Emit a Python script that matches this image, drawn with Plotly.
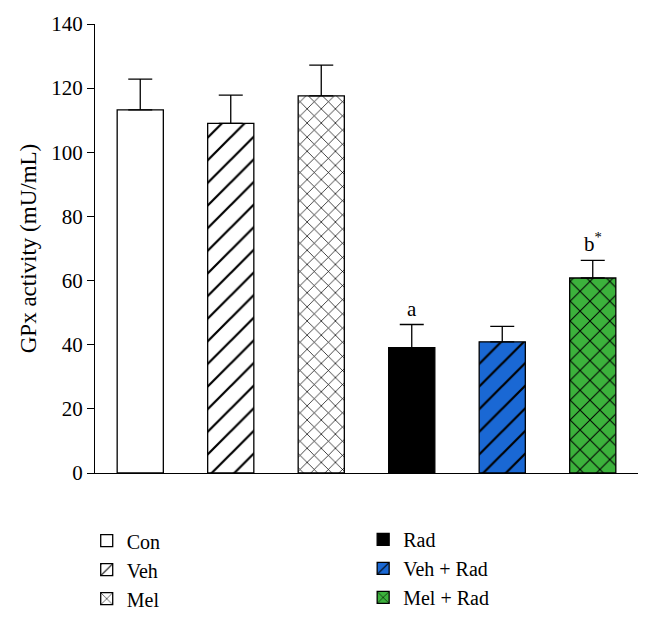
import plotly.graph_objects as go

categories = ["Con", "Veh", "Mel", "Rad", "Veh + Rad", "Mel + Rad"]
means = [113.2, 109.0, 117.6, 39.1, 40.9, 60.8]
errors = [9.6, 8.8, 9.6, 7.2, 4.8, 5.5]
colors = ["white", "white", "white", "black", "#1a68d4", "#3cb23c"]
patterns = ["", "/", "x", "", "/", "x"]
pattern_sizes = [10, 16, 10, 10, 16, 14]
legend_ids = ["legend", "legend", "legend", "legend2", "legend2", "legend2"]
sig_labels = ["", "", "", "a", "", "b<sup>*</sup>"]

FONT = "Liberation Serif"
W, H = 652, 619

fig = go.Figure()
for i, cat in enumerate(categories):
    fig.add_trace(go.Bar(
        x=[cat], y=[means[i]], name=cat,
        width=0.51,
        marker=dict(color=colors[i], line=dict(color="black", width=1.3),
                    pattern=dict(shape=patterns[i], fgcolor="black", fgopacity=1,
                                 size=pattern_sizes[i], solidity=0.14)),
        error_y=dict(type="data", array=[errors[i]], arrayminus=[0], symmetric=False,
                     color="black", thickness=1.3, width=12),
        legend=legend_ids[i],
    ))

for i, cat in enumerate(categories):
    if sig_labels[i]:
        fig.add_annotation(x=cat, y=means[i] + errors[i], text=sig_labels[i],
                           showarrow=False, yanchor="bottom", yshift=2,
                           font=dict(family=FONT, size=21, color="black"))

fig.update_layout(
    width=W, height=H,
    margin=dict(l=0, r=0, t=0, b=0),
    paper_bgcolor="white", plot_bgcolor="white",
    barmode="overlay",
    font=dict(family=FONT, size=20, color="black"),
    showlegend=True,
    legend=dict(x=0.133, y=0.158, xanchor="left", yanchor="top",
                font=dict(family=FONT, size=20),
                bgcolor="rgba(0,0,0,0)", itemclick=False),
    legend2=dict(x=0.557, y=0.16, xanchor="left", yanchor="top",
                 font=dict(family=FONT, size=20),
                 bgcolor="rgba(0,0,0,0)", itemclick=False),
    xaxis=dict(type="category", categoryorder="array", categoryarray=categories,
               domain=[95 / W, 638 / W], automargin=False,
               range=[-0.5, 5.5], showticklabels=False, ticks="",
               showline=True, linecolor="black", linewidth=1.3,
               showgrid=False, zeroline=False),
    yaxis=dict(range=[0, 140], tickvals=[0, 20, 40, 60, 80, 100, 120, 140],
               domain=[1 - 473 / H, 1 - 24 / H], automargin=False,
               ticks="outside", ticklen=7, tickcolor="black", tickwidth=1.3,
               showline=True, linecolor="black", linewidth=1.3,
               showgrid=False, zeroline=False,
               tickfont=dict(family=FONT, size=21),
               title=dict(text="GPx activity (mU/mL)", standoff=8,
                          font=dict(family=FONT, size=23))),
)

fig.write_html("out.html", config={"displayModeBar": False},
               post_script="document.body.style.margin='0';")
